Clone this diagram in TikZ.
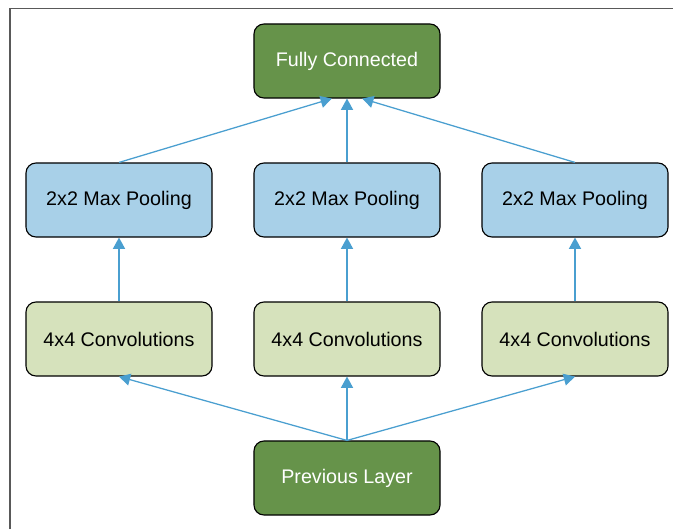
\documentclass[tikz,border=0pt]{standalone}
\usepackage{fontspec}
\setmainfont{Liberation Sans}
\usepackage{xcolor}
\usetikzlibrary{arrows.meta}

\definecolor{darkgreen}{HTML}{66934A}
\definecolor{poolblue}{HTML}{A8D0E8}
\definecolor{convgreen}{HTML}{D6E2BC}
\definecolor{linkblue}{HTML}{4A9FD0}

\tikzset{
	layer/.style={draw=black, line width=0.8pt, rounded corners=0.25cm,
		minimum width=4.65cm, minimum height=1.85cm, font=\fontsize{14}{16}\selectfont},
	link/.style={draw=linkblue, line width=0.9pt, -{Triangle[width=0.3cm,length=0.28cm]}}
}

\begin{document}
\begin{tikzpicture}[x=0.025cm, y=-0.025cm]
	\useasboundingbox (0,0) rectangle (673,529);
	% frame on the left and top
	\draw[color=black!65, line width=1.4pt] (10,529) -- (10,8.5) -- (673,8.5);

	% Define the nodes with specific positions
	\node[layer, fill=darkgreen, text=white] (fc) at (347,61) {Fully Connected};
	\node[layer, fill=poolblue] (pool1) at (119,200) {2x2 Max Pooling};
	\node[layer, fill=poolblue] (pool2) at (347,200) {2x2 Max Pooling};
	\node[layer, fill=poolblue] (pool3) at (575,200) {2x2 Max Pooling};
	\node[layer, fill=convgreen] (conv1) at (119,339) {4x4 Convolutions};
	\node[layer, fill=convgreen] (conv2) at (347,339) {4x4 Convolutions};
	\node[layer, fill=convgreen] (conv3) at (575,339) {4x4 Convolutions};
	\node[layer, fill=darkgreen, text=white] (prev) at (347,478) {Previous Layer};

	% Draw the connections between the layers
	\draw[link] (prev.north) -- (conv1.south);
	\draw[link] (prev.north) -- (conv2.south);
	\draw[link] (prev.north) -- (conv3.south);
	\draw[link] (conv1) -- (pool1);
	\draw[link] (conv2) -- (pool2);
	\draw[link] (conv3) -- (pool3);
	\draw[link] (pool1.north) -- (fc.248);
	\draw[link] (pool2.north) -- (fc.south);
	\draw[link] (pool3.north) -- (fc.292);
\end{tikzpicture}
\end{document}
